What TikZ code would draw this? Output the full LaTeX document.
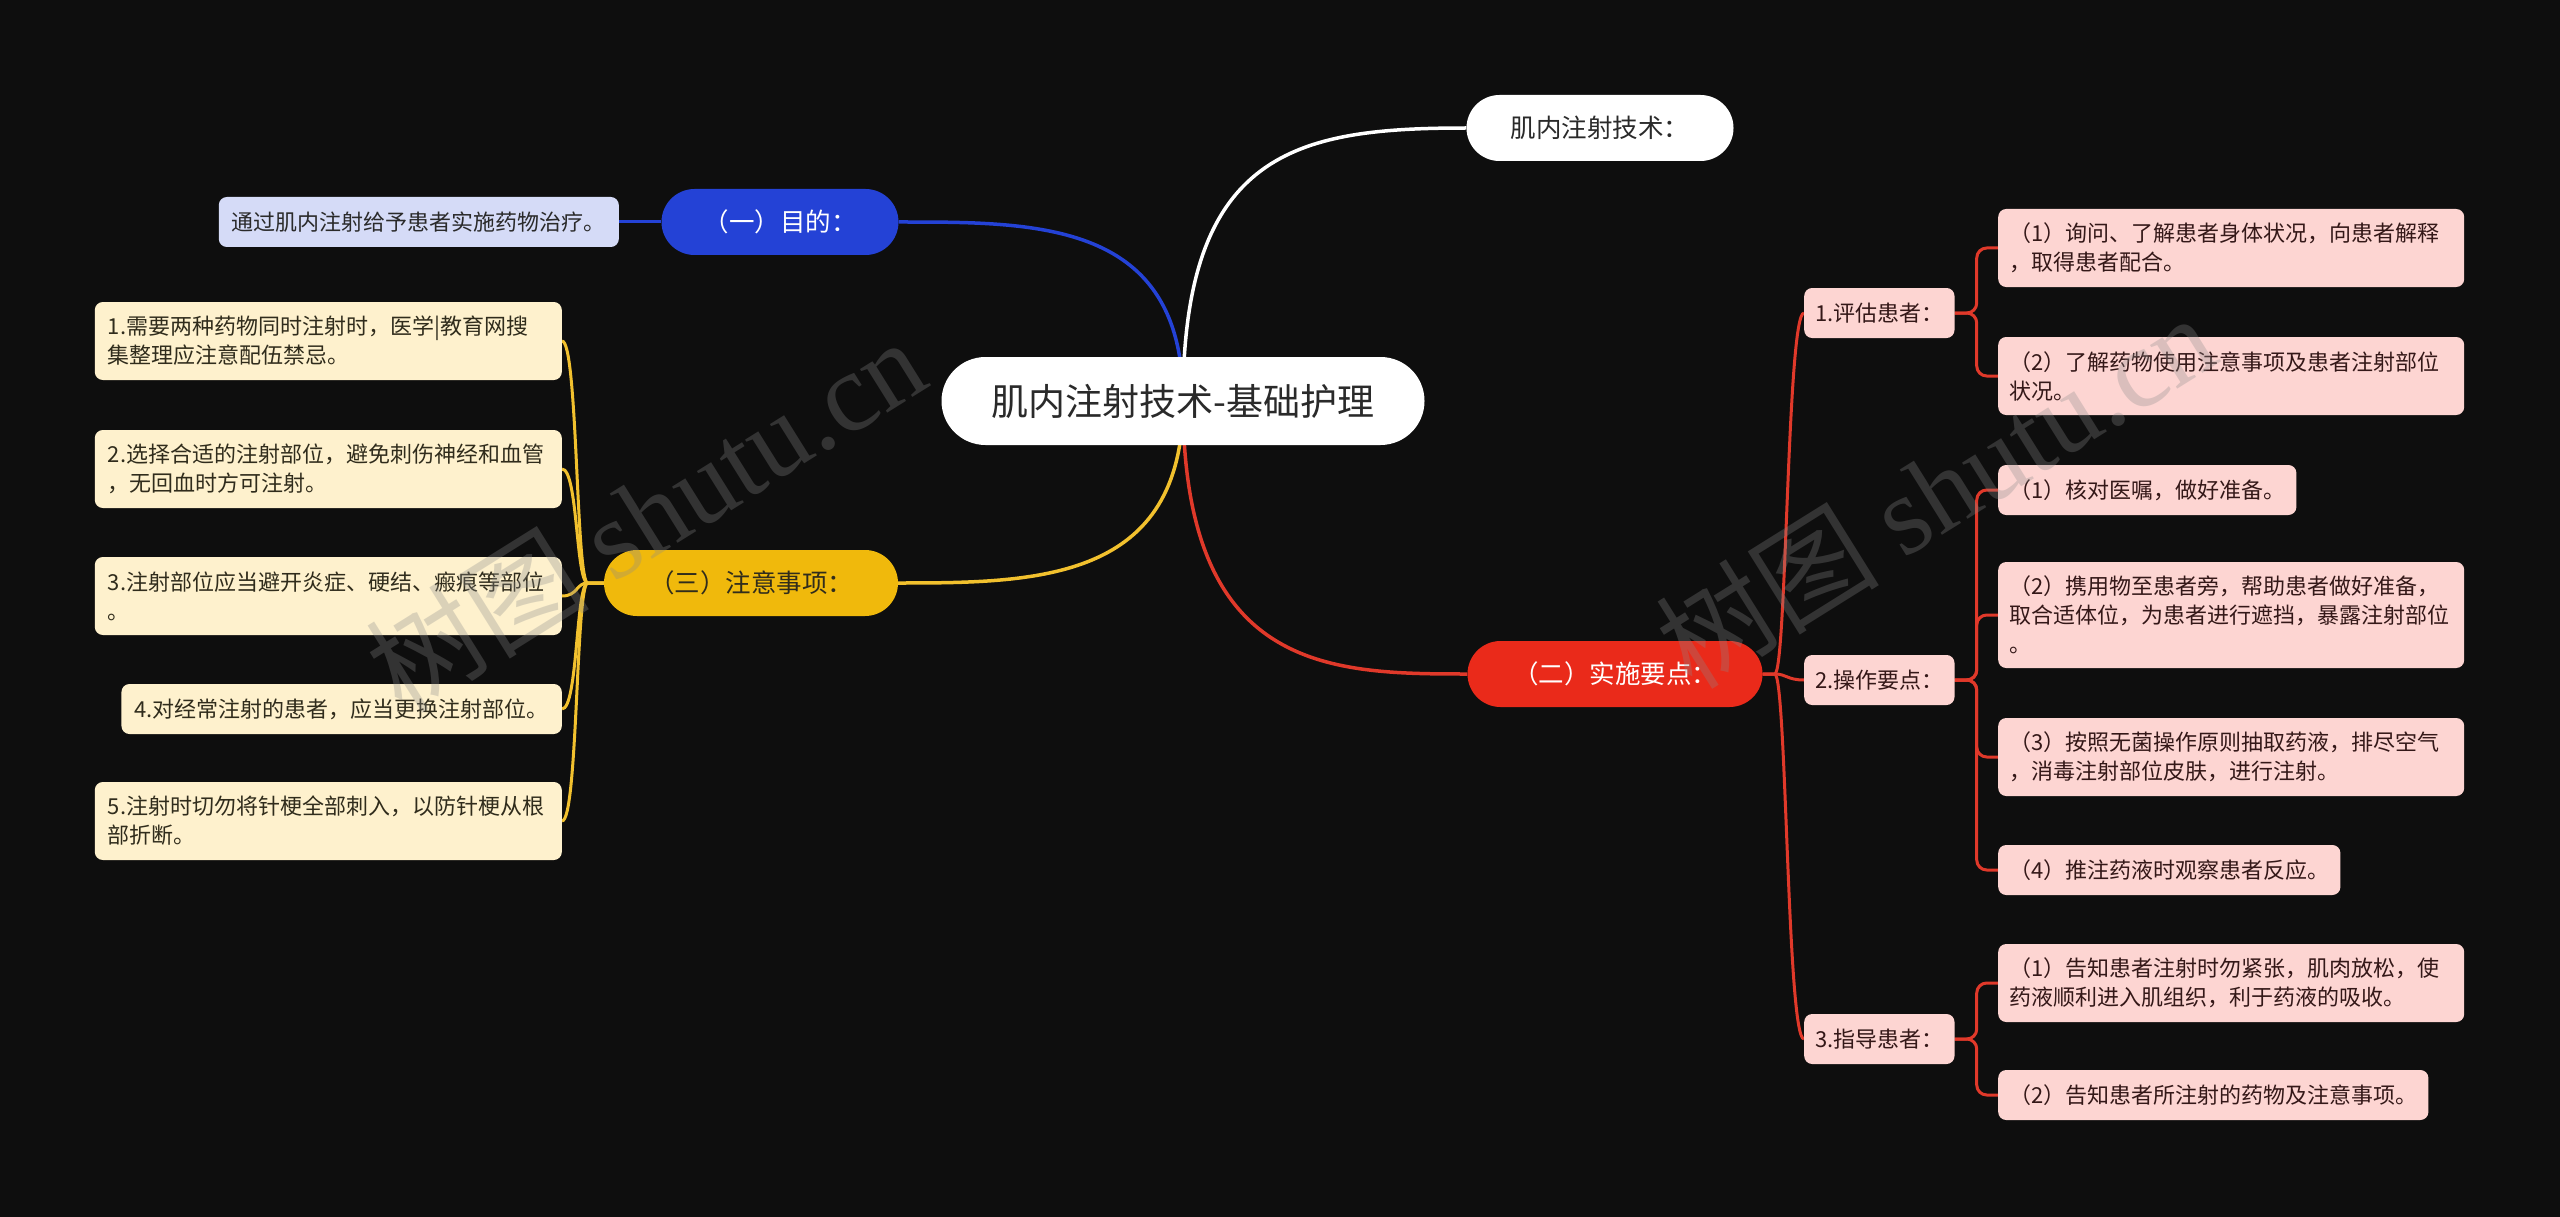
\documentclass[tikz,border=0pt]{standalone}
\usepackage{fontspec}
\setmainfont{Noto Sans CJK SC}
\newfontfamily\wmserif{Liberation Serif}
\definecolor{bgc}{HTML}{0E0E0E}
\definecolor{bluec}{HTML}{2442D6}
\definecolor{blueleaf}{HTML}{D5DBF7}
\definecolor{yellowc}{HTML}{F0B90C}
\definecolor{yline}{HTML}{F2C12E}
\definecolor{cream}{HTML}{FEF1CD}
\definecolor{redc}{HTML}{EA2A1A}
\definecolor{rline}{HTML}{E0392A}
\definecolor{pinkc}{HTML}{FDD5D2}
\definecolor{darktext}{HTML}{2A2A2A}
\definecolor{ptext}{HTML}{341818}
\definecolor{ytext}{HTML}{302C1C}
\definecolor{wmgray}{HTML}{8A8A8A}
\pgfdeclarelayer{bg}
\pgfsetlayers{bg,main}
\begin{document}
\begin{tikzpicture}[x=1pt,y=-1pt,
  leafbase/.style={rounded corners=8pt, inner xsep=11pt, inner ysep=0pt,
    font=\fontsize{22}{29}\selectfont, align=left, minimum height=50pt},
  yleaf/.style={leafbase, inner xsep=13pt, fill=cream, text=ytext},
  pleaf/.style={leafbase, fill=pinkc, text=ptext},
  two/.style={minimum height=78pt},
  three/.style={minimum height=106pt},
  branch/.style={rounded corners=33pt, minimum height=66pt, inner xsep=0pt,
    font=\fontsize{25.5}{30}\selectfont},
  conn/.style={line width=3.5pt},
  sub/.style={line width=3pt},
  wmark/.style={rotate=32, text=wmgray, opacity=0.3, font=\fontsize{112}{112}\selectfont}
]
\begin{pgfonlayer}{bg}
\fill[bgc] (0,0) rectangle (2560,1217);
\end{pgfonlayer}
\useasboundingbox (0,0) rectangle (2560,1217);

% central
\node[fill=white, text=darktext, rounded corners=44pt, minimum width=483pt,
  minimum height=88pt, font=\fontsize{37}{40}\selectfont] (c) at (1183,401)
  {肌内注射技术-基础护理};

% branches
\node[branch, fill=white, text=darktext, minimum width=267pt] (wt) at (1600,128) {肌内注射技术：};
\node[branch, fill=bluec, text=white, minimum width=237pt] (bl) at (780,222) {（一）目的：};
\node[branch, fill=yellowc, text=ytext, minimum width=294pt] (yl) at (751,583) {（三）注意事项：};
\node[branch, fill=redc, text=white, minimum width=295pt] (rd) at (1615,674) {（二）实施要点：};

% blue leaf
\node[leafbase, inner xsep=13pt, fill=blueleaf, text=darktext, anchor=east] (lb) at (619,222)
  {通过肌内注射给予患者实施药物治疗。};

% yellow leaves
\node[yleaf, two, text width=441pt, anchor=east] (y1) at (562,341)
  {1.需要两种药物同时注射时，医学|教育网搜\\集整理应注意配伍禁忌。};
\node[yleaf, two, text width=441pt, anchor=east] (y2) at (562,469)
  {2.选择合适的注射部位，避免刺伤神经和血管\\，无回血时方可注射。};
\node[yleaf, two, text width=441pt, anchor=east] (y3) at (562,596)
  {3.注射部位应当避开炎症、硬结、瘢痕等部位\\。};
\node[yleaf, anchor=east] (y4) at (562,709)
  {4.对经常注射的患者，应当更换注射部位。};
\node[yleaf, two, text width=441pt, anchor=east] (y5) at (562,821)
  {5.注射时切勿将针梗全部刺入，以防针梗从根\\部折断。};

% red mid nodes
\node[pleaf, anchor=west] (m1) at (1804,313) {1.评估患者：};
\node[pleaf, anchor=west] (m2) at (1804,680) {2.操作要点：};
\node[pleaf, anchor=west] (m3) at (1804,1039) {3.指导患者：};

% pink leaves
\node[pleaf, two, text width=444pt, anchor=west] (a1) at (1998,248)
  {（1）询问、了解患者身体状况，向患者解释\\，取得患者配合。};
\node[pleaf, two, text width=444pt, anchor=west] (a2) at (1998,376)
  {（2）了解药物使用注意事项及患者注射部位\\状况。};
\node[pleaf, anchor=west] (b1) at (1998,490) {（1）核对医嘱，做好准备。};
\node[pleaf, three, text width=444pt, anchor=west] (b2) at (1998,615)
  {（2）携用物至患者旁，帮助患者做好准备，\\取合适体位，为患者进行遮挡，暴露注射部位\\。};
\node[pleaf, two, text width=444pt, anchor=west] (b3) at (1998,757)
  {（3）按照无菌操作原则抽取药液，排尽空气\\，消毒注射部位皮肤，进行注射。};
\node[pleaf, anchor=west] (b4) at (1998,870) {（4）推注药液时观察患者反应。};
\node[pleaf, two, text width=444pt, anchor=west] (c1) at (1998,983)
  {（1）告知患者注射时勿紧张，肌肉放松，使\\药液顺利进入肌组织，利于药液的吸收。};
\node[pleaf, anchor=west] (c2) at (1998,1095) {（2）告知患者所注射的药物及注意事项。};

% connectors
\begin{pgfonlayer}{bg}
\draw[conn, white] (c.center) .. controls +(0,-250) and +(-170,0) .. (wt.west);
\draw[conn, bluec] (c.center) .. controls +(0,-180) and +(140,0) .. (bl.east);
\draw[conn, yline] (c.center) .. controls +(0,180) and +(140,0) .. (yl.east);
\draw[conn, rline] (c.center) .. controls +(0,270) and +(-140,0) .. (rd.west);

\draw[sub, bluec] (bl.west) -- (lb.east);

\foreach \n in {y1,y2,y3,y4,y5}
  \draw[sub, yline] (yl.west) -- ++(-16,0) .. controls +(-12,0) and +(16,0) .. (\n.east);

\foreach \n in {m1,m2,m3}
  \draw[sub, rline] (rd.east) -- ++(12,0) .. controls +(12,0) and +(-17,0) .. (\n.west);

\foreach \n in {a1,a2}
  \draw[sub, rline, rounded corners=10pt] (m1.east) -- ++(22,0) |- (\n.west);
\foreach \n in {b1,b2,b3,b4}
  \draw[sub, rline, rounded corners=10pt] (m2.east) -- ++(22,0) |- (\n.west);
\foreach \n in {c1,c2}
  \draw[sub, rline, rounded corners=10pt] (m3.east) -- ++(22,0) |- (\n.west);
\end{pgfonlayer}

% watermarks
\node[wmark] (wm1) at (645,514) {树图 {\wmserif shutu.cn}};
\node[wmark] (wm2) at (1935,490) {树图 {\wmserif shutu.cn}};
\end{tikzpicture}
\end{document}
